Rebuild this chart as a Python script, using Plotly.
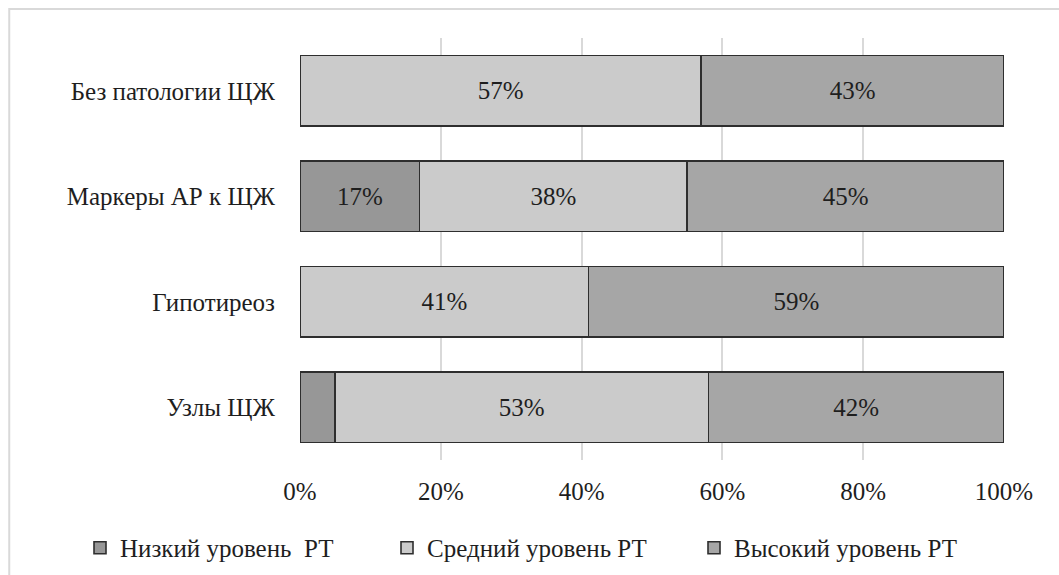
import plotly.graph_objects as go

categories = ["Без патологии ЩЖ", "Маркеры АР к ЩЖ", "Гипотиреоз", "Узлы ЩЖ"]
low = [0, 17, 0, 5]
medium = [57, 38, 41, 53]
high = [43, 45, 59, 42]

series_names = ["Низкий уровень  РТ", "Средний уровень РТ", "Высокий уровень РТ"]
series_colors = ["#979797", "#cbcbcb", "#a6a6a6"]
tick_vals = [0, 20, 40, 60, 80, 100]
tick_text = ["0%", "20%", "40%", "60%", "80%", "100%"]

FONT = "Liberation Serif, Times New Roman, serif"
TEXT_COLOR = "#1e1e1e"
FONT_SIZE = 25

fig = go.Figure()
for name, vals, color in zip(series_names, [low, medium, high], series_colors):
    xs = [v if v > 0 else None for v in vals]
    labels = [f"{v}%" if v >= 10 else "" for v in vals]
    fig.add_trace(go.Bar(
        y=categories,
        x=xs,
        orientation="h",
        name=name,
        marker=dict(color=color, line=dict(color="#2e2e2e", width=1.6)),
        text=labels,
        textposition="inside",
        insidetextanchor="middle",
        textfont=dict(family=FONT, size=FONT_SIZE, color=TEXT_COLOR),
        hoverinfo="skip",
    ))

# light outer frame around the whole chart
fig.add_shape(type="rect", xref="paper", yref="paper",
              x0=-0.413, x1=1.2, y0=-0.6, y1=1.069,
              line=dict(color="#d9d9d9", width=2), fillcolor="rgba(0,0,0,0)",
              layer="below")

fig.update_layout(
    width=1059, height=575,
    margin=dict(l=300, r=55, t=38, b=115, autoexpand=False),
    barmode="stack",
    bargap=0.33,
    plot_bgcolor="white",
    paper_bgcolor="white",
    font=dict(family=FONT, size=FONT_SIZE, color=TEXT_COLOR),
    uniformtext=dict(mode="show", minsize=10),
    xaxis=dict(
        range=[0, 100],
        tickvals=tick_vals,
        ticktext=tick_text,
        showgrid=True,
        gridcolor="#d9d9d9",
        gridwidth=2,
        zeroline=False,
        showline=False,
        ticks="",
        ticklabelstandoff=14,
        tickfont=dict(family=FONT, size=FONT_SIZE, color=TEXT_COLOR),
        fixedrange=True,
    ),
    yaxis=dict(
        categoryorder="array",
        categoryarray=categories[::-1],
        showgrid=False,
        zeroline=False,
        showline=False,
        ticks="",
        ticklabelstandoff=24,
        tickfont=dict(family=FONT, size=FONT_SIZE, color=TEXT_COLOR),
        fixedrange=True,
    ),
    legend=dict(
        orientation="h",
        x=-0.3125, xanchor="left",
        y=-0.2085, yanchor="middle",
        font=dict(family=FONT, size=FONT_SIZE, color=TEXT_COLOR),
        itemwidth=30,
        entrywidth=262,
        entrywidthmode="pixels",
        traceorder="normal",
    ),
    showlegend=True,
)

fig.write_html("out.html")
